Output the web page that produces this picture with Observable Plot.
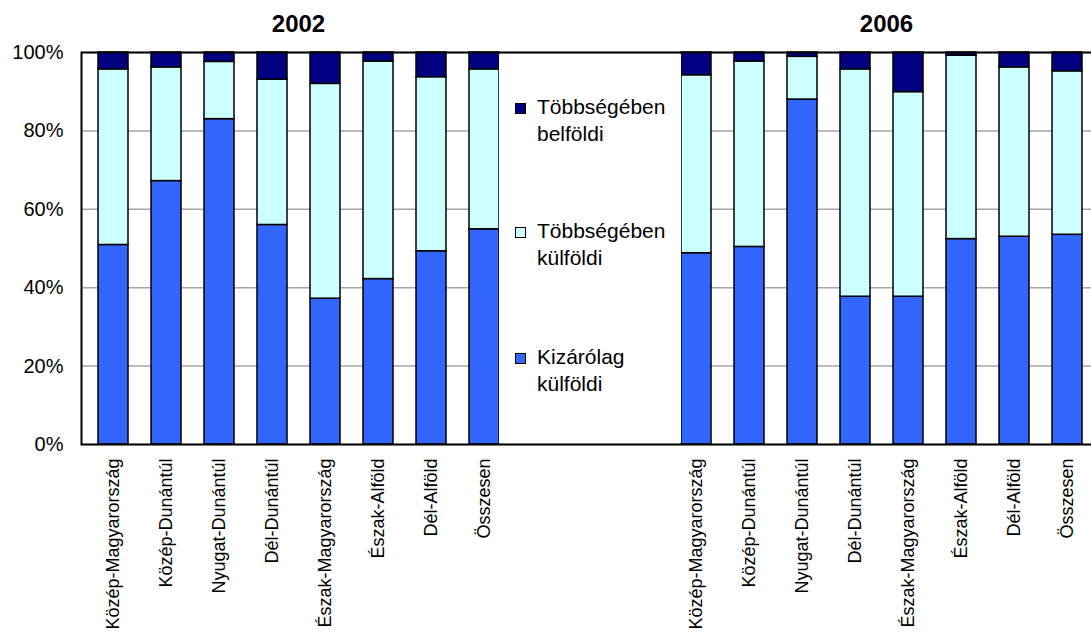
<!DOCTYPE html>
<html>
<head>
<meta charset="utf-8">
<script src="https://cdn.jsdelivr.net/npm/d3@7"></script>
<script src="https://cdn.jsdelivr.net/npm/@observablehq/plot@0.6"></script>
<style>
  body { margin: 0; background: #fff; font-family: "Liberation Sans", Arial, sans-serif; }
  #wrap { position: relative; width: 1091px; height: 632px; overflow: hidden; }
  #wrap svg { max-width: none; display: block; }
  #legend { position: absolute; left: 499px; top: 54px; width: 182px; height: 389px; background: #fff; }
  .item { position: absolute; left: 38px; font-size: 21px; line-height: 26.5px; color: #000; white-space: nowrap; }
  .sw { position: absolute; left: -22px; top: 9px; width: 9px; height: 9px; border: 1px solid #000; }
</style>
</head>
<body>
<div id="wrap"></div>
<script>
const regions = ["Közép-Magyarország", "Közép-Dunántúl", "Nyugat-Dunántúl", "Dél-Dunántúl",
                 "Észak-Magyarország", "Észak-Alföld", "Dél-Alföld", "Összesen"];
const years = ["2002", "2006"];
const series = ["Kizárólag külföldi", "Többségében külföldi", "Többségében belföldi"];
const colors = ["#3366FF", "#CCFFFF", "#000080"];
const yTicks = [0, 20, 40, 60, 80, 100];

const kizarolag2002 = [50.9, 67.2, 83.0, 56.0, 37.2, 42.2, 49.3, 54.9];
const tobbsegKulfoldi2002 = [44.8, 29.0, 14.6, 37.1, 54.8, 55.5, 44.4, 40.8];
const tobbsegBelfoldi2002 = [4.3, 3.8, 2.4, 6.9, 8.0, 2.3, 6.3, 4.3];

const kizarolag2006 = [48.8, 50.4, 88.0, 37.7, 37.7, 52.4, 53.0, 53.5];
const tobbsegKulfoldi2006 = [45.4, 47.3, 10.9, 58.0, 52.2, 46.8, 43.2, 41.7];
const tobbsegBelfoldi2006 = [5.8, 2.3, 1.1, 4.3, 10.1, 0.8, 3.8, 4.8];

const valuesByYear = {
  "2002": [kizarolag2002, tobbsegKulfoldi2002, tobbsegBelfoldi2002],
  "2006": [kizarolag2006, tobbsegKulfoldi2006, tobbsegBelfoldi2006]
};

const keyOf = (y, r) => y + "|" + r;
const keys2002 = regions.map(r => keyOf("2002", r));
const keys2006 = regions.map(r => keyOf("2006", r));
const gapKeys = ["gap1", "gap2", "gap3"];
const xDomain = [...keys2002, ...gapKeys, ...keys2006];
const realKeys = [...keys2002, ...keys2006];

const rows = [];
for (const y of years) {
  series.forEach((s, si) => {
    regions.forEach((r, ri) => {
      rows.push({key: keyOf(y, r), series: s, value: valuesByYear[y][si][ri]});
    });
  });
}

const titleDx = {"2002": -27, "2006": -22};

const chart = Plot.plot({
  width: 1100,
  height: 632,
  marginLeft: 81,
  marginRight: 1,
  marginTop: 52,
  marginBottom: 188,
  style: {fontFamily: "'Liberation Sans', Arial, sans-serif", background: "#fff", color: "#000", maxWidth: "none"},
  x: {type: "band", domain: xDomain, paddingInner: 0.44, paddingOuter: 0.22, align: 0.5},
  y: {domain: [0, 100]},
  color: {domain: series, range: colors},
  marks: [
    Plot.gridY(yTicks, {stroke: "#a6a6a6", strokeOpacity: 1, strokeWidth: 1.5}),
    Plot.barY(rows, {x: "key", y: "value", fill: "series", order: series, stroke: "#000", strokeWidth: 1.5}),
    Plot.frame({stroke: "#000", strokeWidth: 2}),
    Plot.axisY(yTicks, {tickFormat: d => d + "%", tickSize: 0, tickPadding: 18, fontSize: 20, label: null}),
    Plot.axisX(realKeys, {tickFormat: k => k.split("|")[1], tickRotate: -90, tickSize: 0, tickPadding: 14, fontSize: 18, label: null}),
    ...years.map(y => Plot.text([y], {
      x: () => keyOf(y, "Észak-Magyarország"), text: d => d, frameAnchor: "top", lineAnchor: "middle",
      dy: -28, dx: titleDx[y], fontWeight: "bold", fontSize: 24, fill: "#000"
    }))
  ]
});

const wrap = document.getElementById("wrap");
wrap.appendChild(chart);

// Legend box (sits in the gap between the two groups, hiding gridlines as in the original)
const legend = document.createElement("div");
legend.id = "legend";
const legendOrder = [2, 1, 0];
const itemTops = [40.3, 164.3, 290.3];
legendOrder.forEach((si, i) => {
  const item = document.createElement("div");
  item.className = "item";
  item.style.top = itemTops[i] + "px";
  const sw = document.createElement("div");
  sw.className = "sw";
  sw.style.background = colors[si];
  item.appendChild(sw);
  const words = series[si].split(" ");
  words.forEach((w, wi) => {
    if (wi > 0) item.appendChild(document.createElement("br"));
    item.appendChild(document.createTextNode(w));
  });
  legend.appendChild(item);
});
wrap.appendChild(legend);
</script>
</body>
</html>
